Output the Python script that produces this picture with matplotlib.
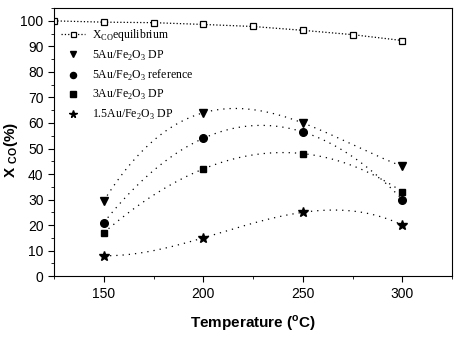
import numpy as np
import matplotlib.pyplot as plt
from matplotlib.ticker import MultipleLocator

# Gleichgewichtsumsatz
t_eq = [125, 150, 175, 200, 225, 250, 275, 300]
x_eq = [100, 99.5, 99.3, 98.6, 97.8, 96.3, 94.6, 92.3]

# Messpunkte der Katalysatoren
temp = [150, 200, 250, 300]
au5_dp = [29.5, 64, 60, 43]
au5_ref = [21, 54, 56.5, 30]
au3_dp = [17, 42, 48, 33]
au15_dp = [8, 15, 25, 20]

fig = plt.figure(figsize=(4.54, 3.38), dpi=100)
ax = fig.add_axes([0.119, 0.183, 0.877, 0.793])

ax.plot(t_eq, x_eq, ls=':', color='black', lw=0.9, marker='s', mfc='white',
        mec='black', ms=4.5, mew=0.9, label=r'X$_{\mathregular{CO}}$equilibrium')

series = [(au5_dp, 'v', 6, r'5Au/Fe$_{\mathregular{2}}$O$_{\mathregular{3}}$ DP'),
          (au5_ref, 'o', 5.5, r'5Au/Fe$_{\mathregular{2}}$O$_{\mathregular{3}}$ reference'),
          (au3_dp, 's', 5, r'3Au/Fe$_{\mathregular{2}}$O$_{\mathregular{3}}$ DP'),
          (au15_dp, '*', 7, r'1.5Au/Fe$_{\mathregular{2}}$O$_{\mathregular{3}}$ DP')]

tt = np.linspace(150, 300, 200)
for y, m, s, lab in series:
    # Ausgleichskurve (Polynom 3. Grades)
    p = np.polyfit(temp, y, 3)
    ax.plot(tt, np.polyval(p, tt), ls=(0, (1, 4)), color='black', lw=0.9)
    ax.plot(temp, y, ls='none', marker=m, ms=s, color='black', label=lab)

ax.set_xlim(125, 325)
ax.set_ylim(0, 105)
ax.xaxis.set_major_locator(MultipleLocator(50))
ax.xaxis.set_minor_locator(MultipleLocator(25))
ax.yaxis.set_major_locator(MultipleLocator(10))
ax.yaxis.set_minor_locator(MultipleLocator(5))
ax.tick_params(which='both', direction='out', labelsize=10)
ax.tick_params(which='major', length=4)
ax.tick_params(which='minor', length=2)
for lbl in ax.get_xticklabels() + ax.get_yticklabels():
    lbl.set_family('Liberation Sans')

ax.set_xlabel(r'Temperature ($^{\mathregular{o}}$C)', fontsize=11, fontweight='bold',
              family='Liberation Sans', labelpad=9)
ax.set_ylabel(r'X $_{\mathregular{CO}}$(%)', fontsize=11, fontweight='bold',
              family='Liberation Sans')
ax.yaxis.set_label_coords(-0.085, 0.47)

ax.legend(loc='upper left', bbox_to_anchor=(0.0, 0.955), frameon=False,
          prop={'family': 'Liberation Serif', 'size': 8.5}, handlelength=2.0,
          handletextpad=0.6, labelspacing=0.45, borderaxespad=0.2, markerscale=0.8)

fig.savefig('out.png', dpi=100)
